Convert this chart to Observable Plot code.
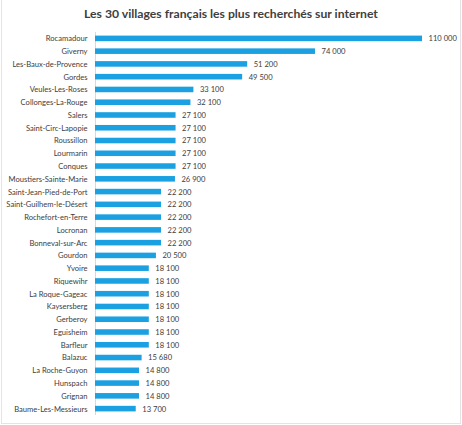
<!DOCTYPE html>
<html><head><meta charset="utf-8">
<script src="https://cdn.jsdelivr.net/npm/d3@7"></script>
<script src="https://cdn.jsdelivr.net/npm/@observablehq/plot@0.6"></script>
<style>
body{margin:0;background:#fff;}
#wrap{position:relative;width:462px;height:425px;overflow:hidden;}
#frame{position:absolute;left:1px;top:-2px;width:460px;height:426px;border:1px solid #e4e4e4;box-sizing:border-box;pointer-events:none;}
#title{position:absolute;left:0;top:6px;width:462px;text-align:center;font-family:Lato,sans-serif;font-weight:bold;font-size:12.2px;color:#404040;}
</style></head>
<body><div id="wrap"><div id="chart"></div><div id="title">Les 30 villages français les plus recherchés sur internet</div><div id="frame"></div></div>
<script>
const villages = ["Rocamadour","Giverny","Les-Baux-de-Provence","Gordes","Veules-Les-Roses","Collonges-La-Rouge","Salers","Saint-Circ-Lapopie","Roussillon","Lourmarin","Conques","Moustiers-Sainte-Marie","Saint-Jean-Pied-de-Port","Saint-Guilhem-le-Désert","Rochefort-en-Terre","Locronan","Bonneval-sur-Arc","Gourdon","Yvoire","Riquewihr","La Roque-Gageac","Kaysersberg","Gerberoy","Eguisheim","Barfleur","Balazuc","La Roche-Guyon","Hunspach","Grignan","Baume-Les-Messieurs"];
const searches = [110000,74000,51200,49500,33100,32100,27100,27100,27100,27100,27100,26900,22200,22200,22200,22200,22200,20500,18100,18100,18100,18100,18100,18100,18100,15680,14800,14800,14800,13700];
const title = "Les 30 villages français les plus recherchés sur internet";

const data = villages.map((v,i)=>({village:v, value:searches[i]}));
const fmt = v => d3.format(",")(v).replace(/,/g," ");

const chart = Plot.plot({
  width: 462, height: 425,
  marginLeft: 95, marginRight: 40, marginTop: 32, marginBottom: 10,
  style: {fontFamily: "Lato, sans-serif", fontSize: "7.6px", color: "#404040", background: "transparent"},
  x: {domain: [0, 110000], axis: null},
  y: {domain: villages, padding: 0, round: false, label: null, axis: null},
  marks: [
    Plot.ruleX([0], {stroke: "#d9d9d9"}),
    Plot.barX(data, {y: "village", x: "value", fill: "#1ba1e2", insetTop: 3.6, insetBottom: 3.6}),
    Plot.text(data, {y: "village", x: "value", text: d => fmt(d.value), textAnchor: "start", dx: 6, fill: "#404040", fontSize: 7.6}),
    Plot.axisY({tickSize: 0, tickPadding: 8, label: null, fontSize: 7.6})
  ]
});
document.getElementById("chart").appendChild(chart);
</script></body></html>
